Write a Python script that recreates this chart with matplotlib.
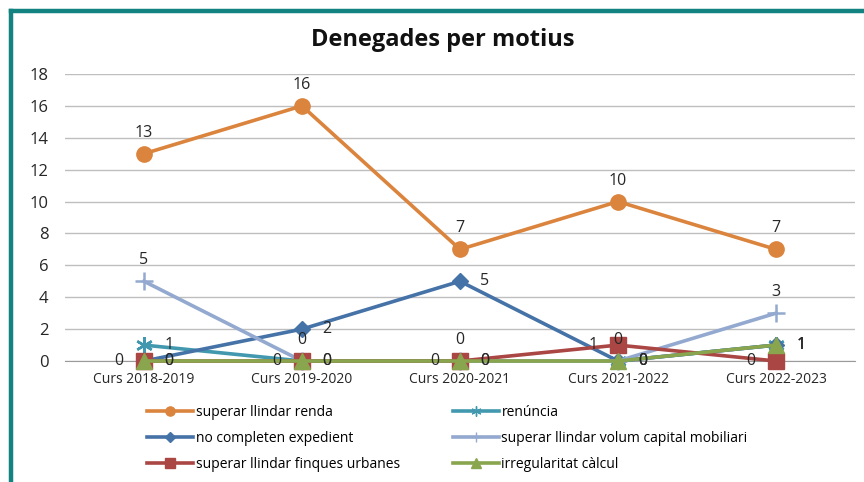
import matplotlib.pyplot as plt
from matplotlib.lines import Line2D

cursos = ['Curs 2018-2019', 'Curs 2019-2020', 'Curs 2020-2021', 'Curs 2021-2022', 'Curs 2022-2023']

renda = [13, 16, 7, 10, 7]
renuncia = [1, 0, 0, 0, 1]
expedient = [0, 2, 5, 0, 1]
capital = [5, 0, 0, 0, 3]
finques = [0, 0, 0, 1, 0]
calcul = [0, 0, 0, 0, 1]

noms = ['superar llindar renda', 'renúncia', 'no completen expedient',
        'superar llindar volum capital mobiliari', 'superar llindar finques urbanes',
        'irregularitat càlcul']

plt.rcParams['font.family'] = ['Open Sans', 'DejaVu Sans']

fig = plt.figure(figsize=(8.64, 4.82), dpi=100)
ax = fig.add_axes([0.0752, 0.251, 0.9144, 0.5955])

x = list(range(len(cursos)))

# series: values, color, marker, markersize, label position
series = [
    (renda, '#DB843D', 'o', 11, 'above'),
    (renuncia, '#4198AF', (6, 2, 0), 12, 'right'),
    (expedient, '#4572A7', 'D', 8, 'right'),
    (capital, '#93A9CF', '+', 13, 'above'),
    (finques, '#AA4643', 's', 11, 'left'),
    (calcul, '#89A54E', '^', 11, 'right'),
]

offs = {'above': (0, 21), 'right': (25, 0), 'left': (-25, 0)}

handles = []
for (vals, col, mk, ms, pos), nom in zip(series, noms):
    ax.plot(x, vals, color=col, lw=2.6, marker=mk, markersize=ms,
            markeredgewidth=1.8 if mk in ('+', (6, 2, 0)) else 1,
            markeredgecolor=col, zorder=3, clip_on=False)
    for xi, v in zip(x, vals):
        ax.annotate(str(v), (xi, v), xytext=offs[pos], textcoords='offset pixels',
                    ha='center', va='center', fontsize=11.5, color='#262626', zorder=5)
    handles.append(Line2D([], [], color=col, lw=2.6, marker=mk,
                          markersize=ms * 0.6, markeredgecolor=col, label=nom))

# legend fills column by column, reference reads row by row
handles = handles[0::2] + handles[1::2]

ax.set_xlim(-0.5, len(cursos) - 0.5)
ax.set_ylim(0, 18)
ax.set_yticks(range(0, 19, 2))
ax.set_xticks(x)
ax.set_xticklabels(cursos, fontsize=10)
ax.tick_params(axis='y', length=0, pad=12, labelsize=12, colors='#262626')
ax.tick_params(axis='x', length=0, pad=8, colors='#262626')
ax.grid(axis='y', color='#BEBEBE', lw=1)
ax.set_axisbelow(True)
for s in ['top', 'right', 'left']:
    ax.spines[s].set_visible(False)
ax.spines['bottom'].set_color('#9A9A9A')
ax.spines['bottom'].set_zorder(0)

fig.text(0.513, 0.918, 'Denegades per motius', ha='center', va='center',
         fontsize=17, fontweight='bold', color='#111111')

fig.legend(handles=handles, ncol=2, loc='upper left', bbox_to_anchor=(0.1625, 0.174),
           frameon=False, fontsize=10, handlelength=3.3, handletextpad=0.2,
           columnspacing=3.8, labelspacing=0.8, borderpad=0)

# teal frame, cropped at right and bottom
fig.add_artist(Line2D([0.0122, 0.0122], [0, 0.977], color='#138381', lw=3.2,
                      transform=fig.transFigure, solid_capstyle='projecting'))
fig.add_artist(Line2D([0.0122, 1.0], [0.977, 0.977], color='#138381', lw=3.2,
                      transform=fig.transFigure, solid_capstyle='projecting'))

fig.savefig('out.png', dpi=100)
